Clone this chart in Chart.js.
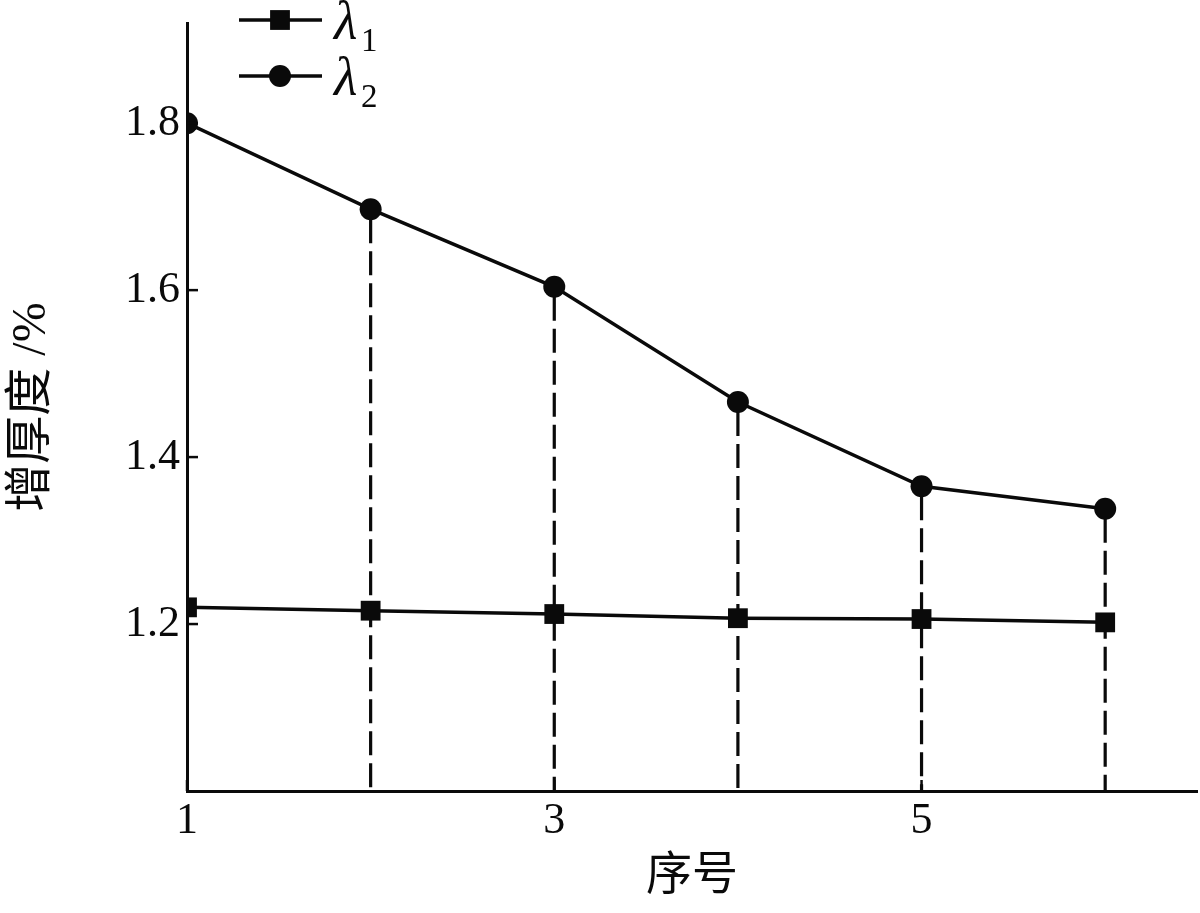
<!DOCTYPE html>
<html>
<head>
<meta charset="utf-8">
<script src="https://cdn.jsdelivr.net/npm/chart.js@4.4.1/dist/chart.umd.min.js"></script>
<style>
  html, body { margin: 0; padding: 0; background: #fff; }
  #wrap { width: 1200px; height: 913px; }
</style>
</head>
<body>
<div id="wrap"><canvas id="thick-chart" width="1200" height="913"></canvas></div>
<script>
// data
const xValues = [1, 2, 3, 4, 5, 6];
const lambda1 = [1.220, 1.216, 1.212, 1.207, 1.206, 1.202];
const lambda2 = [1.800, 1.697, 1.604, 1.466, 1.365, 1.338];
const seriesLabels = ["λ1", "λ2"];
const xTicks = [1, 3, 5];
const yTicks = [1.2, 1.4, 1.6, 1.8];

const SERIF = "'Liberation Serif', 'Times New Roman', serif";
const CJK = "'Liberation Serif', 'Noto Sans CJK SC', serif";
const INK = "#0a0a0a";

function toPoints(ys) {
  return xValues.map((x, i) => ({ x: x, y: ys[i] }));
}

// dashed drop lines from the λ2 points down to the x axis
const dropLines = {
  id: "dropLines",
  beforeDatasetsDraw(chart) {
    const ctx = chart.ctx;
    const xs = chart.scales.x;
    const ys = chart.scales.y;
    ctx.save();
    ctx.strokeStyle = INK;
    ctx.lineWidth = 3.2;
    ctx.setLineDash([24, 8]);
    xValues.forEach((x, i) => {
      if (x === xs.min) return;
      const px = xs.getPixelForValue(x);
      ctx.beginPath();
      ctx.moveTo(px, ys.getPixelForValue(lambda2[i]) + 10);
      ctx.lineTo(px, chart.chartArea.bottom);
      ctx.stroke();
    });
    ctx.restore();
  },
};

// short tick marks pointing into the plot
const innerTicks = {
  id: "innerTicks",
  afterDraw(chart) {
    const ctx = chart.ctx;
    const area = chart.chartArea;
    ctx.save();
    ctx.strokeStyle = INK;
    ctx.lineWidth = 2.5;
    yTicks.forEach((v) => {
      const py = chart.scales.y.getPixelForValue(v);
      ctx.beginPath();
      ctx.moveTo(area.left, py);
      ctx.lineTo(area.left + 11, py);
      ctx.stroke();
    });
    xTicks.forEach((v) => {
      const px = chart.scales.x.getPixelForValue(v);
      ctx.beginPath();
      ctx.moveTo(px, area.bottom);
      ctx.lineTo(px, area.bottom - 11);
      ctx.stroke();
    });
    ctx.restore();
  },
};

// legend: line + marker, italic lambda with subscript
const lambdaLegend = {
  id: "lambdaLegend",
  afterDraw(chart) {
    const ctx = chart.ctx;
    const rows = [20, 76];
    ctx.save();
    chart.data.datasets.forEach((ds, i) => {
      const y = rows[i];
      ctx.strokeStyle = INK;
      ctx.lineWidth = 3.5;
      ctx.beginPath();
      ctx.moveTo(239, y);
      ctx.lineTo(322, y);
      ctx.stroke();
      ctx.fillStyle = INK;
      Chart.helpers.drawPoint(ctx, {
        pointStyle: ds.pointStyle,
        radius: ds.pointRadius,
        borderWidth: 0,
      }, 280, y);
      const label = seriesLabels[i];
      ctx.textBaseline = "alphabetic";
      ctx.textAlign = "left";
      ctx.font = "italic 54px " + SERIF;
      ctx.fillText(label.charAt(0), 334, y + 19);
      ctx.font = "33px " + SERIF;
      ctx.fillText(label.slice(1), 361, y + 31);
    });
    ctx.restore();
  },
};

function createThicknessChart() {
  const ctx = document.getElementById("thick-chart");
  if (!ctx) return;

  new Chart(ctx, {
    type: "line",
    data: {
      datasets: [
        {
          label: seriesLabels[0],
          data: toPoints(lambda1),
          borderColor: INK,
          backgroundColor: INK,
          borderWidth: 3.5,
          pointStyle: "rect",
          pointRadius: 14,
          pointBorderWidth: 0,
          tension: 0,
        },
        {
          label: seriesLabels[1],
          data: toPoints(lambda2),
          borderColor: INK,
          backgroundColor: INK,
          borderWidth: 3.5,
          pointStyle: "circle",
          pointRadius: 11,
          pointBorderWidth: 0,
          tension: 0,
        },
      ],
    },
    options: {
      responsive: false,
      animation: false,
      layout: { autoPadding: false, padding: { left: 0, top: 23, right: 3, bottom: 0 } },
      plugins: {
        legend: { display: false },
        tooltip: { enabled: false },
      },
      scales: {
        x: {
          type: "linear",
          min: 1,
          max: 6.5,
          afterBuildTicks: (s) => { s.ticks = xTicks.map((v) => ({ value: v })); },
          afterFit: (s) => {
            s.height = 122;
            s.paddingLeft = 0;
            s.paddingRight = 0;
          },
          grid: { display: false, drawTicks: false },
          border: { display: true, color: INK, width: 3 },
          ticks: {
            color: INK,
            padding: 4,
            maxRotation: 0,
            font: { family: SERIF, size: 44 },
            callback: (v) => String(v),
          },
          title: {
            display: true,
            text: "序号",
            color: INK,
            font: { family: CJK, size: 46 },
            padding: { top: 0, bottom: 8 },
          },
        },
        y: {
          min: 1.0,
          max: 1.92,
          afterBuildTicks: (s) => { s.ticks = yTicks.map((v) => ({ value: v })); },
          afterFit: (s) => {
            s.width = 187;
            s.paddingTop = 0;
            s.paddingBottom = 0;
          },
          grid: { display: false, drawTicks: false },
          border: { display: true, color: INK, width: 3 },
          ticks: {
            color: INK,
            padding: 7,
            font: { family: SERIF, size: 44 },
            callback: (v) => v.toFixed(1),
          },
          title: {
            display: true,
            text: "增厚度 /%",
            color: INK,
            font: { family: CJK, size: 48 },
            padding: { top: 4, bottom: 0 },
          },
        },
      },
    },
    plugins: [dropLines, innerTicks, lambdaLegend],
  });
}

document.addEventListener("DOMContentLoaded", createThicknessChart);
</script>
</body>
</html>
